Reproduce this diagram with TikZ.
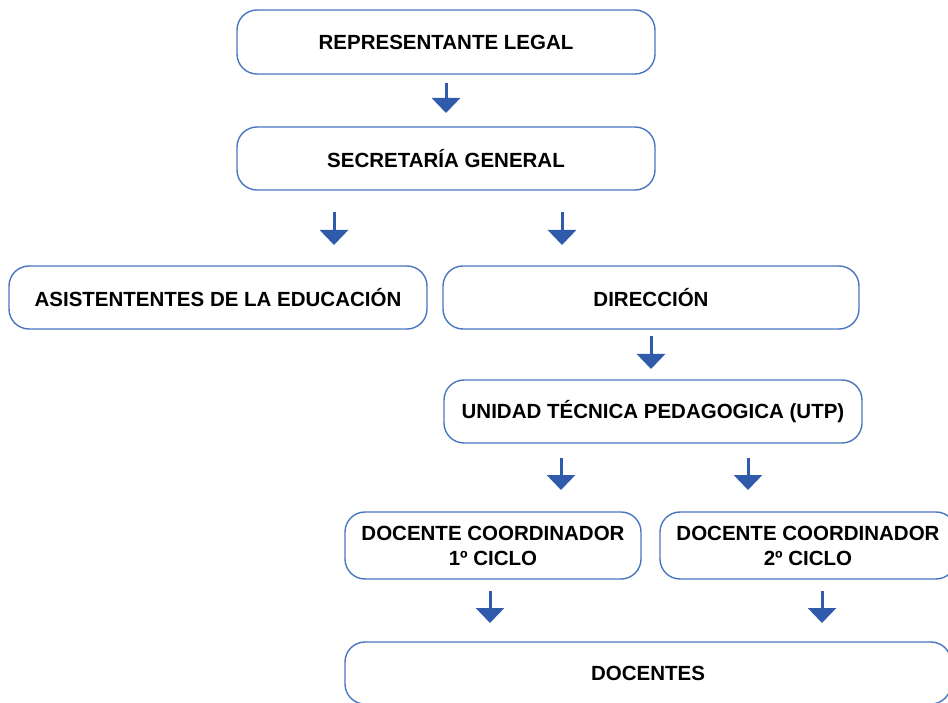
\documentclass[tikz,border=0pt]{standalone}
\usepackage{fontspec}
\setmainfont{Liberation Sans}
\usetikzlibrary{arrows.meta}
\definecolor{boxblue}{HTML}{4A76C0}
\definecolor{arrblue}{HTML}{2F5BAA}
\tikzset{
  orgbox/.style={draw=boxblue, line width=1.4pt, rounded corners=20pt, fill=white,
    font=\fontsize{20.5}{25}\selectfont\bfseries, align=center, inner sep=0pt},
  downarrow/.style={draw=arrblue, line width=3pt, -{Triangle[width=28pt,length=15pt]}, arrblue}
}
\begin{document}
\begin{tikzpicture}[x=1pt,y=-1pt]
\useasboundingbox (0,0) rectangle (948,703);
\clip (0,0) rectangle (948,703);
\node[orgbox, minimum width=418pt, minimum height=64pt] (rep) at (446,42) {REPRESENTANTE LEGAL};
\node[orgbox, minimum width=418pt, minimum height=63pt] (sec) at (446,158.5) {SECRETARÍA GENERAL};
\node[orgbox, minimum width=418pt, minimum height=63pt] (asi) at (218,297.5) {ASISTENTENTES DE LA EDUCACIÓN};
\node[orgbox, minimum width=416pt, minimum height=63pt] (dir) at (651,297.5) {DIRECCIÓN};
\node[orgbox, minimum width=418pt, minimum height=63pt] (utp) at (653,411.5) {UNIDAD TÉCNICA PEDAGOGICA (UTP)};
\node[orgbox, minimum width=296pt, minimum height=67pt] (dc1) at (493,545.5) {DOCENTE COORDINADOR\\1º CICLO};
\node[orgbox, minimum width=296pt, minimum height=67pt] (dc2) at (808,545.5) {DOCENTE COORDINADOR\\2º CICLO};
\node[orgbox, minimum width=606pt, minimum height=62pt] (doc) at (648,673) {DOCENTES};
% free-standing arrows
\coordinate (a1s) at (446,83);  \coordinate (a1e) at (446,113);
\coordinate (a2s) at (334,212); \coordinate (a2e) at (334,245);
\coordinate (a3s) at (562,212); \coordinate (a3e) at (562,245);
\coordinate (a4s) at (651,336); \coordinate (a4e) at (651,369);
\coordinate (a5s) at (561,458); \coordinate (a5e) at (561,490);
\coordinate (a6s) at (748,458); \coordinate (a6e) at (748,490);
\coordinate (a7s) at (490,591); \coordinate (a7e) at (490,623);
\coordinate (a8s) at (822,591); \coordinate (a8e) at (822,623);
\foreach \i in {1,...,8} { \draw[downarrow] (a\i s) -- (a\i e); }
\end{tikzpicture}
\end{document}
